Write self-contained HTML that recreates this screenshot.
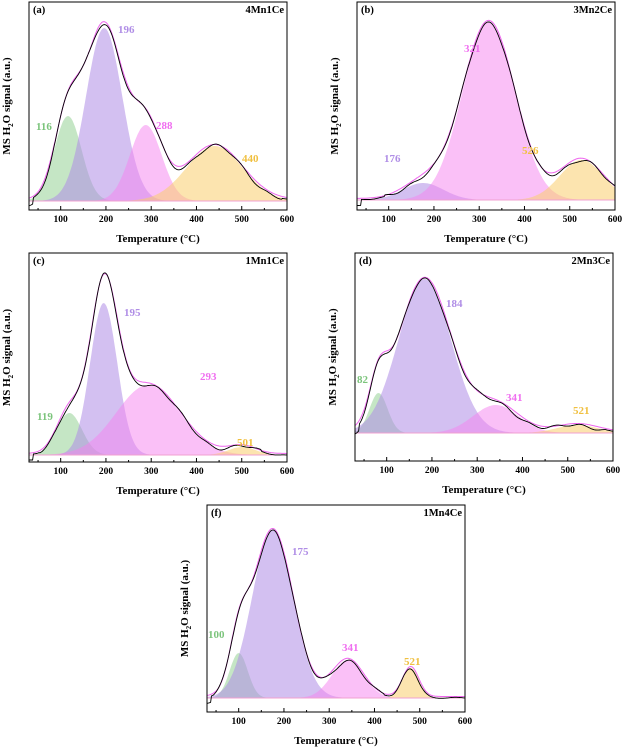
<!DOCTYPE html>
<html><head><meta charset="utf-8"><style>
html,body{margin:0;padding:0;background:#fff}
svg{display:block;font-family:"Liberation Serif",serif;font-weight:bold}
</style></head><body>
<svg id="s" width="624" height="749" viewBox="0 0 624 749" xmlns="http://www.w3.org/2000/svg"></svg>
<script>
const S=document.getElementById('s');let h='';
const C={g:['rgba(140,205,140,0.5)','#7cc47c'],p:['rgba(175,140,230,0.55)','#b08ee6'],k:['rgba(245,130,240,0.5)','#f06ef0'],y:['rgba(250,205,110,0.55)','#f0c040']};
const P=[
{x0:29,x1:287,y0:2,y1:210,base:201,tag:'(a)',name:'4Mn1Ce',pk:[['g',116,30,85],['p',196,40,173],['k',288,35,76],['y',440,62,55]],lab:[[116,'g',36,130],[196,'p',118,33],[288,'k',156,129],[440,'y',242,162]],blk:1},
{x0:357,x1:615,y0:2,y1:210,base:200,tag:'(b)',name:'3Mn2Ce',pk:[['p',176,45,17],['k',321,58,178],['y',526,48,40]],lab:[[176,'p',384,162],[321,'k',464,52],[526,'y',522,154]],blk:2},
{x0:29,x1:287,y0:253,y1:462,base:455,tag:'(c)',name:'1Mn1Ce',pk:[['g',119,28,42],['p',195,30,152],['k',293,70,70],['y',501,30,8]],lab:[[119,'g',37,420],[195,'p',124,316],[293,'k',200,380],[501,'y',237,446]],blk:3},
{x0:355,x1:613,y0:253,y1:461,base:433,tag:'(d)',name:'2Mn3Ce',pk:[['g',82,20,40],['p',184,58,154],['k',341,50,28],['y',521,45,8]],lab:[[82,'g',357,383],[184,'p',446,307],[341,'k',506,401],[521,'y',573,414]],blk:4},
{x0:207,x1:465,y0:505,y1:712,base:698,tag:'(f)',name:'1Mn4Ce',pk:[['g',100,20,45],['p',175,45,168],['k',341,35,38],['y',480,18,30]],lab:[[100,'g',208,638],[175,'p',292,555],[341,'k',342,651],[521,'y',404,665]],blk:5}
];
function gau(t,m,s){return Math.exp(-0.5*((t-m)/s)**2)}
P.forEach((p,pi)=>{
 const X=t=>p.x0+(t-30)*(p.x1-p.x0)/570;
 p.pk.forEach(q=>{let d='M'+X(30)+','+p.base;for(let t=30;t<=600;t+=3)d+='L'+X(t).toFixed(1)+','+(p.base-q[3]*gau(t,q[1],q[2])).toFixed(1);d+='L'+X(600)+','+p.base+'Z';h+=`<path d="${d}" fill="${C[q[0]][0]}" stroke="none"/>`;});
 const env=t=>p.pk.reduce((a,q)=>a+q[3]*gau(t,q[1],q[2]),0);
 let d='',b='';
 for(let t=30;t<=600;t+=2){const e=env(t);d+=(t==30?'M':'L')+X(t).toFixed(1)+','+(p.base-e-1.5).toFixed(1);
  const w=1.2*Math.sin(t*0.11+pi)+1.2*Math.sin(t*0.037+pi*2);
  b+=(t==30?'M':'L')+X(t).toFixed(1)+','+(p.base-e+w*(e>3?1:0.3)+ (t<40?6:0)).toFixed(1);}
 h+=`<line x1="${p.x0}" y1="${p.base}" x2="${p.x1}" y2="${p.base}" stroke="#f0a0d0" stroke-width="1"/>`;
 h+=`<path d="${d}" fill="none" stroke="#ee66ee" stroke-width="1"/>`;
 h+=`<path d="${b}" fill="none" stroke="#000" stroke-width="0.9"/>`;
 h+=`<rect x="${p.x0}" y="${p.y0}" width="${p.x1-p.x0}" height="${p.y1-p.y0}" fill="none" stroke="#000" stroke-width="1"/>`;
 for(let t=50;t<=600;t+=50){const L=t%100==0?4:2;h+=`<line x1="${X(t)}" y1="${p.y1}" x2="${X(t)}" y2="${p.y1-L}" stroke="#000"/>`;if(t%100==0)h+=`<text x="${X(t)}" y="${p.y1+12}" font-size="9.5" text-anchor="middle" font-weight="bold">${t}</text>`;}
 h+=`<text x="${(p.x0+p.x1)/2}" y="${p.y1+32}" font-size="11" text-anchor="middle">Temperature (°C)</text>`;
 const cy=(p.y0+p.y1)/2,lx=p.x0-19;
 h+=`<text transform="translate(${lx},${cy}) rotate(-90)" font-size="11" text-anchor="middle">MS H<tspan font-size="7" dy="3">2</tspan><tspan dy="-3">O signal (a.u.)</tspan></text>`;
 h+=`<text x="${p.x0+4}" y="${p.y0+11}" font-size="10.5">${p.tag}</text>`;
 h+=`<text x="${p.x1-3}" y="${p.y0+11}" font-size="10.5" text-anchor="end">${p.name}</text>`;
 p.lab.forEach(l=>{h+=`<text x="${l[2]}" y="${l[3]}" font-size="11" fill="${C[l[1]][1]}">${l[0]}</text>`;});
});
S.innerHTML=h;
</script>
</body></html>
